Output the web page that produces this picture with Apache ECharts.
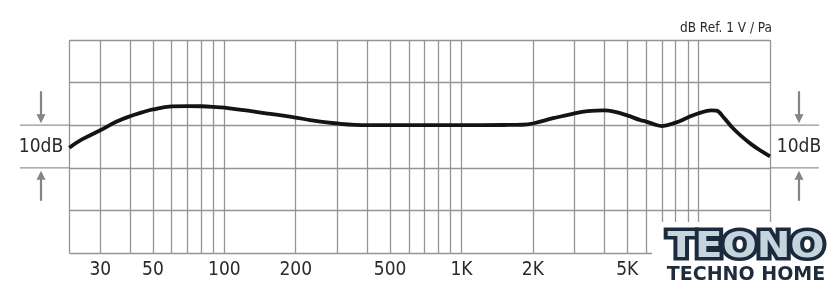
<!DOCTYPE html>
<html><head><meta charset="utf-8">
<script src="https://cdn.jsdelivr.net/npm/echarts@6/dist/echarts.min.js"></script>
<style>html,body{margin:0;padding:0;background:#fff}#c{width:840px;height:297px}</style>
</head><body><div id="c"></div>
<script>
// Frequency (Hz) and relative level (dB)
const freqs = [22.2, 25, 30, 35, 40, 45, 50, 60, 70, 80, 90, 100, 150, 200, 230, 300, 400, 500, 700, 1000, 1500, 1800, 2000, 2460, 3000, 3400, 4000, 4400, 5000, 5700, 6000, 6500, 7000, 8000, 9000, 10000, 11300, 11900, 12850, 13900, 15100, 16700, 18400, 20000];
const levels = [-5.3, -3.4, -1.2, 0.8, 2.1, 3.0, 3.7, 4.4, 4.5, 4.45, 4.3, 4.1, 2.8, 1.8, 1.2, 0.4, 0, 0, 0, 0, 0.05, 0.1, 0.4, 1.7, 2.8, 3.3, 3.5, 3.2, 2.3, 1.15, 0.85, 0.2, -0.2, 0.6, 1.8, 2.8, 3.5, 3.4, 1.6, -0.6, -2.5, -4.5, -6.1, -7.3];
// Vertical grid lines and bottom tick labels
const gridFreqs = [22.2, 30, 40, 50, 60, 70, 80, 90, 100, 200, 300, 400, 500, 600, 700, 800, 900, 1000, 2000, 3000, 4000, 5000, 6000, 7000, 8000, 9000, 10000, 20000];
const labelFreqs = [30, 50, 100, 200, 500, 1000, 2000, 5000];
const xMin = 22.2, xMax = 20000;
const yMin = -30, yMax = 20, yStep = 10;
const scaleText = '10dB';
const refText = 'dB Ref. 1 V / Pa';
const logoMain = 'TEONO';
const logoSub = 'TECHNO HOME';

const FONT = '"Liberation Sans Narrow","DejaVu Sans Condensed","Roboto",sans-serif';
const GRID = '#959595';
const chart = echarts.init(document.getElementById('c'), null, {renderer: 'canvas'});
chart.setOption({
  animation: false,
  backgroundColor: '#fff',
  grid: {left: 69.3, right: 70, top: 40, bottom: 44, outerBoundsMode: 'none'},
  xAxis: {
    type: 'log', logBase: 10, min: xMin, max: xMax,
    axisLine: {show: false},
    axisTick: {show: false, customValues: gridFreqs},
    splitLine: {show: true, lineStyle: {color: GRID, width: 1.3}},
    axisLabel: {
      customValues: labelFreqs, margin: 8, fontSize: 19, color: '#2a2a2a', fontFamily: FONT,
      formatter: v => v >= 1000 ? (v / 1000) + 'K' : String(v)
    }
  },
  yAxis: {
    type: 'value', min: yMin, max: yMax, interval: yStep,
    axisLine: {show: false}, axisTick: {show: false}, axisLabel: {show: false},
    splitLine: {show: true, lineStyle: {color: GRID, width: 1.3}}
  },
  series: [{
    type: 'line', data: freqs.map((f, i) => [f, levels[i]]),
    smooth: 0.4, showSymbol: false, clip: false,
    lineStyle: {color: '#141414', width: 3.8}
  }]
});

const y0 = chart.convertToPixel({yAxisIndex: 0}, 0);
const y10 = chart.convertToPixel({yAxisIndex: 0}, -10);
const yTop = chart.convertToPixel({yAxisIndex: 0}, yMax);
const xL = chart.convertToPixel({xAxisIndex: 0}, xMin);
const xR = chart.convertToPixel({xAxisIndex: 0}, xMax);
const AR = '#858585';
function arrows(cx) {
  return [
    {type: 'line', shape: {x1: cx, y1: y0 - 34, x2: cx, y2: y0 - 9}, style: {stroke: AR, lineWidth: 2.2}},
    {type: 'polygon', shape: {points: [[cx - 4.5, y0 - 11], [cx + 4.5, y0 - 11], [cx, y0 - 2]]}, style: {fill: AR}},
    {type: 'line', shape: {x1: cx, y1: y10 + 33, x2: cx, y2: y10 + 9}, style: {stroke: AR, lineWidth: 2.2}},
    {type: 'polygon', shape: {points: [[cx - 4.5, y10 + 12], [cx + 4.5, y10 + 12], [cx, y10 + 3]]}, style: {fill: AR}},
    {type: 'text', style: {text: scaleText, x: cx, y: (y0 + y10) / 2 + 0.5, align: 'center', verticalAlign: 'middle', font: '19px ' + FONT, fill: '#2a2a2a'}}
  ];
}
const LOGO_FONT = 'bold 35px "DejaVu Sans"';
const g = [
  {type: 'line', shape: {x1: 20, y1: y0, x2: xL, y2: y0}, style: {stroke: GRID, lineWidth: 1.3}},
  {type: 'line', shape: {x1: 20, y1: y10, x2: xL, y2: y10}, style: {stroke: GRID, lineWidth: 1.3}},
  {type: 'line', shape: {x1: xR, y1: y0, x2: 819, y2: y0}, style: {stroke: GRID, lineWidth: 1.3}},
  {type: 'line', shape: {x1: xR, y1: y10, x2: 819, y2: y10}, style: {stroke: GRID, lineWidth: 1.3}},
  ...arrows(41), ...arrows(799),
  {type: 'text', style: {text: refText, x: xR + 2, y: yTop - 12, align: 'right', verticalAlign: 'middle', font: '13.5px ' + FONT, fill: '#2a2a2a'}},
  {type: 'rect', z: 50, shape: {x: 652, y: 222, width: 188, height: 75}, style: {fill: '#fff'}},
  {type: 'text', z: 51, x: 746, y: 248, scaleX: 1.15, style: {
    text: logoMain, x: 0, y: 0, align: 'center', verticalAlign: 'middle',
    font: LOGO_FONT, fill: '#1b2a3c', stroke: '#1b2a3c', lineWidth: 7, lineJoin: 'round'
  }},
  {type: 'text', z: 60, zlevel: 1, x: 746, y: 248, scaleX: 1.15, style: {
    text: logoMain, x: 0, y: 0, align: 'center', verticalAlign: 'middle',
    font: LOGO_FONT, fill: '#c6d5dd', stroke: null, lineWidth: 0
  }},
  {type: 'text', z: 51, style: {text: logoSub, x: 746, y: 275.5, align: 'center', verticalAlign: 'middle', font: 'bold 19px "DejaVu Sans"', fill: '#1f2c3c'}}
];
chart.setOption({graphic: g});
</script></body></html>
